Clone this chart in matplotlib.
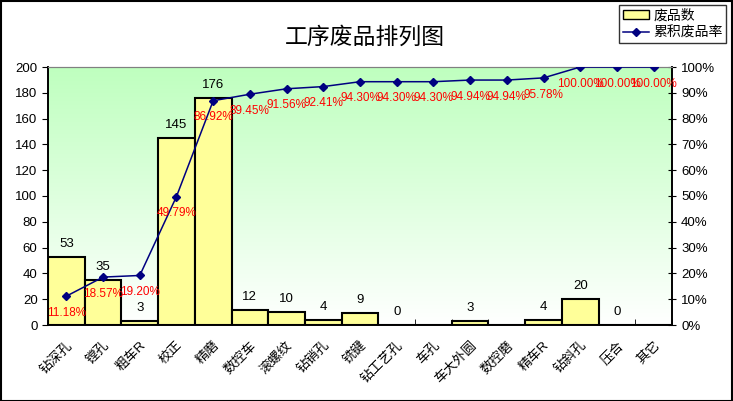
import matplotlib
matplotlib.use('Agg')
import matplotlib.pyplot as plt
import numpy as np
from matplotlib.patches import Patch
from matplotlib.lines import Line2D

plt.rcParams['font.family'] = ['Liberation Sans', 'Noto Sans CJK SC', 'DejaVu Sans']

# data
procs = ['钻深孔', '镗孔', '粗车R', '校正', '精磨', '数控车', '滚螺纹', '钻销孔', '铣键',
         '钻工艺孔', '车孔', '车大外圆', '数控磨', '精车R', '钻斜孔', '压合', '其它']
counts = [53, 35, 3, 145, 176, 12, 10, 4, 9, 0, np.nan, 3, np.nan, 4, 20, 0, np.nan]
cum_pct = [11.18, 18.57, 19.20, 49.79, 86.92, 89.45, 91.56, 92.41, 94.30,
           94.30, 94.30, 94.94, 94.94, 95.78, 100.00, 100.00, 100.00]

fig = plt.figure(figsize=(7.33, 4.01), dpi=100)
ax = fig.add_axes([48/733, 76/401, 624/733, 258/401])

# green -> white background
grad = np.linspace(0, 1, 256).reshape(-1, 1)
top = np.array([0.80, 1.0, 0.80])
img = top[None, None, :] * (1 - grad[:, :, None]) + np.ones(3)[None, None, :] * grad[:, :, None]
img = np.clip(img ** 1.3, 0, 1)
ax.imshow(img, extent=[0, 1, 0, 1], transform=ax.transAxes, aspect='auto', zorder=0)

x = np.arange(len(procs))
bar_vals = np.nan_to_num(np.array(counts, dtype=float))
ax.bar(x, bar_vals, width=1.0, color='#FFFF99', edgecolor='black', linewidth=1.5, zorder=2)
for xi, v in zip(x, counts):
    if not np.isnan(v):
        ax.annotate('%d' % v, (xi, v), xytext=(0, 5), textcoords='offset points',
                    ha='center', va='bottom', fontsize=9.5, zorder=5)

ax.set_xlim(-0.5, len(procs) - 0.5)
ax.set_ylim(0, 200)
ax.set_yticks(range(0, 201, 20))
ax.set_xticks(x)
ax.set_xticklabels(procs, rotation=45, ha='right', rotation_mode='anchor', fontsize=9.5)
ax.set_xticks(np.arange(-0.5, len(procs), 1), minor=True)
ax.tick_params(axis='x', which='major', length=0, pad=10)
ax.tick_params(axis='x', which='minor', length=4, direction='in')
ax.tick_params(axis='y', labelsize=9.5, length=4, direction='out')

ax2 = ax.twinx()
ax2.plot(x, cum_pct, color='#000080', marker='D', markersize=4.5, linewidth=1.1, zorder=4)
for xi, p in zip(x, cum_pct):
    ax2.annotate('%.2f%%' % p, (xi, p), xytext=(0, -12), textcoords='offset points',
                 ha='center', va='center', fontsize=8.5, color='red', zorder=6)
ax2.set_ylim(0, 100)
ax2.set_yticks(range(0, 101, 10))
ax2.set_yticklabels(['%d%%' % v for v in range(0, 101, 10)])
ax2.tick_params(axis='y', labelsize=9.5, length=6, direction='inout')

for a in (ax, ax2):
    a.spines['top'].set_color('#808080')
    a.spines['left'].set_linewidth(1.2)
    a.spines['bottom'].set_linewidth(1.2)
    a.spines['right'].set_linewidth(1.2)

fig.text(365/733, 1 - 37/401, '工序废品排列图', ha='center', va='center', fontsize=16.5)

handles = [Patch(facecolor='#FFFF99', edgecolor='black'),
           Line2D([0], [0], color='#000080', marker='D', markersize=4.5, linewidth=1.1)]
leg = fig.legend(handles, ['废品数', '累积废品率'], loc='upper right',
                 bbox_to_anchor=(726/733, 1 - 5/401), fontsize=10, frameon=True,
                 fancybox=False, edgecolor='black', borderpad=0.25, labelspacing=0.25,
                 handlelength=1.9, handletextpad=0.3, borderaxespad=0)
leg.get_frame().set_linewidth(1.0)

# outer frame
fig.patches.append(plt.Rectangle((0.001, 0.001), 0.997, 0.997, transform=fig.transFigure,
                                 fill=False, edgecolor='black', linewidth=1.5))

fig.savefig('out.png', dpi=100)
